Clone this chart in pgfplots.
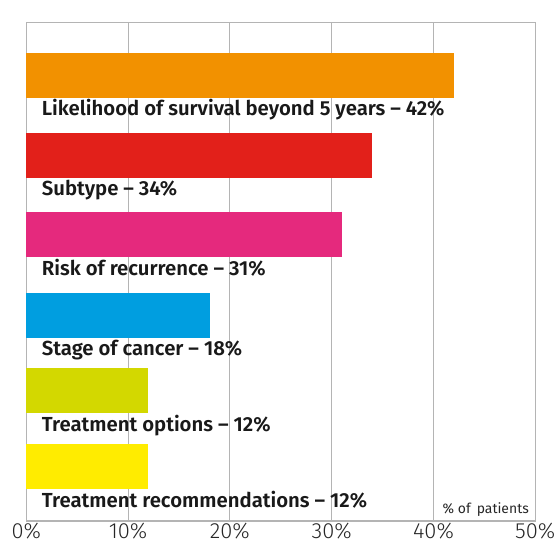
\documentclass[border=0pt]{standalone}
\usepackage{pgfplots}
\pgfplotsset{compat=1.18}
\usepackage{fontspec}
\setmainfont{Fira Sans}
\newfontfamily\tickfont{Fira Sans Light}
\newfontfamily\semibold{Fira Sans SemiBold}[Ligatures=TeX]
\definecolor{cOrange}{HTML}{F29100}
\definecolor{cRed}{HTML}{E2201A}
\definecolor{cPink}{HTML}{E5297D}
\definecolor{cBlue}{HTML}{009EE0}
\definecolor{cLime}{HTML}{D3D800}
\definecolor{cYellow}{HTML}{FFEC00}
\definecolor{gridgray}{RGB}{180,180,180}
\begin{document}
\begin{tikzpicture}
\begin{axis}[
  scale only axis, width=509bp, height=498.5bp,
  xmin=0, xmax=50, ymin=20.5, ymax=519, y dir=reverse,
  xtick={0,10,20,30,40,50},
  xticklabels={0\%,10\%,20\%,30\%,40\%,50\%},
  ytick=\empty,
  major tick length=0pt,
  xmajorgrids,
  grid style={line width=1.1bp, color=gridgray},
  axis line style={line width=1.1bp, color=gridgray},
  xticklabel style={font=\tickfont\fontsize{22}{22}\selectfont, inner sep=0pt, yshift=-1.5bp, text=black!85},
  clip=false,
]
\addplot[xbar, bar width=45, bar shift=0pt, fill=cOrange, draw=none] coordinates {(42,73.4)};
\addplot[xbar, bar width=45, bar shift=0pt, fill=cRed, draw=none] coordinates {(34,153.2)};
\addplot[xbar, bar width=45, bar shift=0pt, fill=cPink, draw=none] coordinates {(31,232.5)};
\addplot[xbar, bar width=45, bar shift=0pt, fill=cBlue, draw=none] coordinates {(18,313.3)};
\addplot[xbar, bar width=45, bar shift=0pt, fill=cLime, draw=none] coordinates {(12,388.5)};
\addplot[xbar, bar width=45, bar shift=0pt, fill=cYellow, draw=none] coordinates {(12,464.2)};
\tikzset{lbl/.style={anchor=base west, inner sep=0pt, xshift=15.4bp, font=\semibold\fontsize{20.4}{20.4}\selectfont, text=black!90}}
\node[lbl] at (axis cs:0,113.7) {Likelihood of survival beyond 5 years – 42\%};
\node[lbl] at (axis cs:0,193.7) {Subtype – 34\%};
\node[lbl] at (axis cs:0,273) {Risk of recurrence – 31\%};
\node[lbl] at (axis cs:0,353.7) {Stage of cancer – 18\%};
\node[lbl] at (axis cs:0,429) {Treatment options – 12\%};
\node[lbl] at (axis cs:0,505) {Treatment recommendations – 12\%};
\node[anchor=base east, inner sep=0pt, xshift=-6.3bp, font=\fontsize{14}{14}\selectfont, text=black!85] at (axis cs:50,511) {\% of\, patients};
\end{axis}
\pgfresetboundingbox
\path (-26.3bp,-23bp) rectangle (527.7bp,521bp);
\end{tikzpicture}
\end{document}
